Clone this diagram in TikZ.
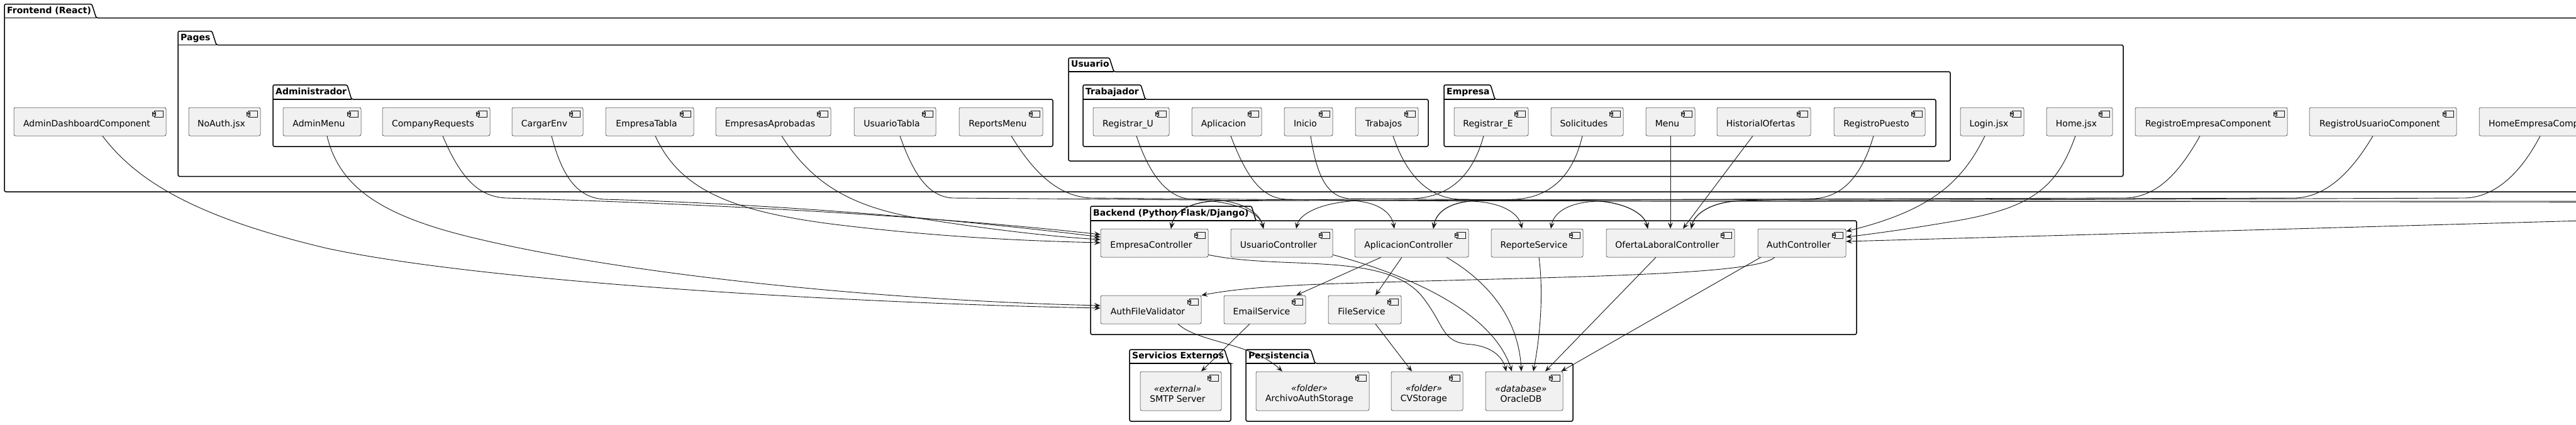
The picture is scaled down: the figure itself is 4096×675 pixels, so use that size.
\documentclass[tikz,border=0pt]{standalone}
\usepackage{fontspec}
\setmainfont{DejaVu Sans}
\usetikzlibrary{calc,arrows.meta}
\definecolor{cfill}{HTML}{F1F1F1}
\definecolor{cline}{HTML}{181818}
\tikzset{
  compbox/.style={draw=cline, line width=0.5pt, fill=cfill, rounded corners=2.5pt, inner sep=0pt},
  comptext/.style={inner sep=0pt, font=\fontsize{14}{16}\selectfont, text height=10.5pt, text depth=3pt, text=black},
  comptextb/.style={inner sep=0pt, font=\fontsize{14}{16}\selectfont, align=center, text=black},
  iconst/.style={draw=cline, line width=0.5pt, fill=cfill},
  pkgline/.style={draw=black, line width=1.5pt, rounded corners=2.5pt},
  pkgtitle/.style={inner sep=0pt, anchor=west, font=\fontsize{14}{16}\selectfont\bfseries, text height=10.5pt, text depth=3pt},
  conn/.style={draw=cline, line width=0.9pt, -{Stealth[length=10pt,width=8pt,inset=4pt]}},
  plain/.style={draw=cline, line width=0.9pt}
}
\newcommand\mkicon[1]{%
  \draw[iconst] ($(#1.north east)+(-19,5)$) rectangle ++(14,10);
  \draw[iconst] ($(#1.north east)+(-22,7)$) rectangle ++(5,2.5);
  \draw[iconst] ($(#1.north east)+(-22,10.5)$) rectangle ++(5,2.5);
}
\newcommand\mkcomp[6]{%
  \node[compbox, minimum width={#3-#2}, minimum height={#5-#4}] (#1) at ({(#2+#3)/2},{(#4+#5)/2}) {};
  \node[comptext] (#1-t) at ($(#1.center)+(-5,4.5)$) {#6};
  \mkicon{#1}
}
\newcommand\mkcompb[7]{%
  \node[compbox, minimum width={#3-#2}, minimum height={#5-#4}] (#1) at ({(#2+#3)/2},{(#4+#5)/2}) {};
  \node[comptextb] (#1-t) at ($(#1.center)+(-5,4.5)$) {\textit{#6}\\#7};
  \mkicon{#1}
}
\newcommand\mkpkg[8]{%
  \draw[pkgline] (#2,#5) -- (#2,#4) -- ({#7-7},#4) -- (#7,#5) -- (#3,#5) -- (#3,#6) -- (#2,#6) -- cycle;
  \draw[draw=black, line width=1.5pt] (#2,#5) -- (#7,#5);
  \node[pkgtitle] (#1) at ({#2+4},{(#4+#5)/2}) {#8};
}
\begin{document}
\begin{tikzpicture}[x=1pt, y=-1pt]
\useasboundingbox (0,0) rectangle (4096,675);
\clip (0,0) rectangle (4096,675);
\fill[white] (0,0) rectangle (4096,675);

% packages
\mkpkg{pFrontend}{7}{4250}{6.5}{28.5}{305}{153}{Frontend (React)}
\mkpkg{pPages}{283}{3376}{49.5}{71.5}{280.5}{344}{Pages}
\mkpkg{pAdmin}{434}{1674}{135}{158}{233}{559}{Administrador}
\mkpkg{pUsuario}{1699}{3101}{92}{114}{256}{1771}{Usuario}
\mkpkg{pTrab}{1722}{2271}{135}{158}{233}{1821}{Trabajador}
\mkpkg{pEmpresa}{2296}{3078}{135}{158}{233}{2377}{Empresa}
\mkpkg{pBackend}{1734}{2952}{328}{351}{532}{1997}{Backend (Python Flask/Django)}
\mkpkg{pServ}{1796}{1957}{556}{578}{670}{1954}{Servicios Externos}
\mkpkg{pPers}{1981}{2501}{556}{578}{670}{2091}{Persistencia}

% frontend components
\mkcomp{AdminDash}{22}{264}{171}{216}{AdminDashboardComponent}
\mkcomp{NoAuth}{300}{414}{171}{216}{NoAuth.jsx}
\mkcomp{AdminMenu}{450}{574}{171}{216}{AdminMenu}
\mkcomp{CompanyRequests}{608}{779}{171}{216}{CompanyRequests}
\mkcomp{CargarEnv}{814}{927}{171}{216}{CargarEnv}
\mkcomp{EmpresaTabla}{963}{1103}{171}{216}{EmpresaTabla}
\mkcomp{EmpresasAprobadas}{1138}{1321}{171}{216}{EmpresasAprobadas}
\mkcomp{UsuarioTabla}{1358}{1488}{171}{216}{UsuarioTabla}
\mkcomp{ReportsMenu}{1525}{1658}{171}{216}{ReportsMenu}
\mkcomp{RegistrarU}{1738}{1859}{171}{216}{Registrar\_U}
\mkcomp{Aplicacion}{1895}{2006}{171}{216}{Aplicacion}
\mkcomp{Inicio}{2042}{2119}{171}{216}{Inicio}
\mkcomp{Trabajos}{2155}{2255}{171}{216}{Trabajos}
\mkcomp{RegistrarE}{2312}{2430}{171}{216}{Registrar\_E}
\mkcomp{Solicitudes}{2466}{2581}{171}{216}{Solicitudes}
\mkcomp{Menu}{2617}{2695}{171}{216}{Menu}
\mkcomp{HistorialOfertas}{2730}{2879}{171}{216}{HistorialOfertas}
\mkcomp{RegistroPuesto}{2916}{3061}{171}{216}{RegistroPuesto}
\mkcomp{Login}{3117}{3218}{171}{216}{Login.jsx}
\mkcomp{Home}{3254}{3359}{171}{216}{Home.jsx}
\mkcomp{RegEmpComp}{3395}{3637}{171}{216}{RegistroEmpresaComponent}
\mkcomp{RegUsuComp}{3672}{3906}{171}{216}{RegistroUsuarioComponent}
\mkcomp{HomeEmpComp}{3942}{4166}{171}{216}{HomeEmpresaComponent}

% backend components
\mkcomp{EmpresaController}{1750}{1921}{364}{409}{EmpresaController}
\mkcomp{UsuarioController}{1957}{2119}{364}{409}{UsuarioController}
\mkcomp{AplicacionController}{2154}{2335}{364}{409}{AplicacionController}
\mkcomp{ReporteService}{2371}{2517}{364}{409}{ReporteService}
\mkcomp{OfertaLaboralController}{2554}{2758}{364}{409}{OfertaLaboralController}
\mkcomp{AuthController}{2795}{2935}{364}{409}{AuthController}
\mkcomp{AuthFileValidator}{1750}{1910}{470}{515}{AuthFileValidator}
\mkcomp{EmailService}{1946}{2076}{470}{515}{EmailService}
\mkcomp{FileService}{2112}{2228}{470}{515}{FileService}

% externals and persistence
\mkcompb{SMTP}{1813}{1942}{591}{653}{«external»}{SMTP Server}
\mkcompb{ArchivoAuth}{1997}{2177}{591}{653}{«folder»}{ArchivoAuthStorage}
\mkcompb{CVStorage}{2212}{2326}{591}{653}{«folder»}{CVStorage}
\mkcompb{OracleDB}{2362}{2485}{591}{653}{«database»}{OracleDB}

% off-picture sources (right of the visible part)
\coordinate (offA) at (4250,347);
\coordinate (offB) at (4250,320);
\coordinate (offC) at (4250,321.5);

% ---- frontend -> backend
\draw[conn] ($(AdminDash.south)+(20,0)$) .. controls +(60,80) and (330,350) .. (520,395)
  .. controls (800,455) and (1450,485) .. ($(AuthFileValidator.west)+(0,-2.5)$);
\draw[conn] ($(AdminMenu.south)+(8,0)$) .. controls (540,300) and (610,345) .. (760,380)
  .. controls (1000,437) and (1400,478) .. ($(AuthFileValidator.west)+(0,-6.5)$);
\draw[conn] ($(CompanyRequests.south)+(10.5,0)$) .. controls (735,290) and (765,313) .. (805,315)
  .. controls (1150,325) and (1500,345) .. ($(EmpresaController.west)+(0,-13.5)$);
\draw[conn] ($(CargarEnv.south)+(6.5,0)$) .. controls (895,285) and (920,314) .. (960,317)
  .. controls (1250,325) and (1550,352) .. ($(EmpresaController.west)+(0,-9.5)$);
\draw[conn] ($(EmpresaTabla.south)+(9,0)$) .. controls (1080,300) and (1160,335) .. (1320,356)
  .. controls (1480,376) and (1620,383) .. ($(EmpresaController.west)+(0,-0.5)$);
\draw[conn] ($(EmpresasAprobadas.south)+(13.5,0)$) .. controls (1290,290) and (1350,328) .. (1460,347)
  .. controls (1580,366) and (1680,377) .. ($(EmpresaController.west)+(0,-5.5)$);
\draw[conn] ($(UsuarioTabla.south)+(8,0)$) .. controls (1455,285) and (1480,313) .. (1515,315) -- (1900,318)
  .. controls (1965,320) and (2003,338) .. ($(UsuarioController.north)+(-29,0)$);
\draw[conn] ($(RegistrarU.south)+(8.5,0)$) .. controls (1830,285) and (1860,315) .. (1895,317) -- (1930,318)
  .. controls (1975,320) and (2003,338) .. ($(UsuarioController.north)+(-29,0)$);
\draw[conn] ($(ReportsMenu.south)+(16.5,0)$) .. controls (1650,285) and (1690,313) .. (1735,315) -- (2340,320)
  .. controls (2390,322) and (2415,340) .. ($(ReporteService.north)+(-24,0)$);
\draw[conn] ($(Aplicacion.south)+(6.5,0)$) .. controls (1985,290) and (2010,315) .. (2045,317) -- (2150,319)
  .. controls (2195,322) and (2213,340) .. ($(AplicacionController.north)+(-27.5,0)$);
\draw[conn] ($(Inicio.south)+(3.5,0)$) .. controls (2095,290) and (2115,313) .. (2145,316) -- (2535,319)
  .. controls (2585,322) and (2615,340) .. ($(OfertaLaboralController.north)+(-36,0)$);
\draw[conn] ($(Trabajos.south)+(10,0)$) .. controls (2240,290) and (2280,315) .. (2320,317) -- (2535,319.5)
  .. controls (2585,322) and (2615,340) .. ($(OfertaLaboralController.north)+(-36,0)$);
\draw[conn] ($(RegistrarE.south)+(-12,0)$) .. controls (2340,285) and (2300,314) .. (2245,316) -- (1935,319)
  .. controls (1885,322) and (1866,340) .. ($(EmpresaController.north)+(26.5,0)$);
\draw[conn] ($(RegEmpComp.south)+(-18,0)$) .. controls (3465,275) and (3430,313) .. (3380,315) -- (1935,319.5)
  .. controls (1885,322) and (1866,340) .. ($(EmpresaController.north)+(26.5,0)$);
\draw[conn] ($(Solicitudes.south)+(-7.5,0)$) .. controls (2500,285) and (2460,314) .. (2410,317) -- (2345,319)
  .. controls (2300,322) and (2283,340) .. ($(AplicacionController.north)+(34.5,0)$);
\draw[conn] (offC) -- (2345,319.5)
  .. controls (2300,322) and (2283,340) .. ($(AplicacionController.north)+(34.5,0)$);
\draw[conn] (Menu.south) -- (OfertaLaboralController.north);
\draw[conn] ($(HistorialOfertas.south)+(-17.5,0)$) -- ($(OfertaLaboralController.north)+(20,0)$);
\draw[conn] ($(RegistroPuesto.south)+(-9.5,0)$) .. controls (2960,280) and (2930,313) .. (2885,316) -- (2765,319)
  .. controls (2720,322) and (2694,340) .. ($(OfertaLaboralController.north)+(33,0)$);
\draw[conn] ($(HomeEmpComp.south)+(-15,0)$) .. controls (4010,272) and (3970,313) .. (3920,315) -- (2765,319.5)
  .. controls (2720,322) and (2694,340) .. ($(OfertaLaboralController.north)+(33,0)$);
\draw[conn] ($(RegUsuComp.south)+(-16,0)$) .. controls (3740,272) and (3700,313) .. (3650,315) -- (2160,319)
  .. controls (2100,322) and (2066,340) .. ($(UsuarioController.north)+(23,0)$);
\draw[conn] (offB) -- (2540,320)
  .. controls (2490,322) and (2470,340) .. ($(ReporteService.north)+(22,0)$);
\draw[conn] ($(Login.south)+(-11.5,0)$) .. controls (3120,290) and (3070,335) .. ($(AuthController.east)+(0,-18.5)$);
\draw[conn] ($(Home.south)+(-6.5,0)$) .. controls (3270,300) and (3230,332) .. (3100,353)
  .. controls (3030,365) and (2970,373) .. ($(AuthController.east)+(0,-9.5)$);
\draw[conn] (offA) -- ($(AuthController.east)+(0,-2.5)$);

% ---- backend internal
\draw[conn] ($(EmpresaController.south east)+(0,-4)$) .. controls (2040,430) and (2200,400) .. (2260,470)
  .. controls (2300,520) and (2290,545) .. (2340,548)
  .. controls (2375,552) and (2390,570) .. ($(OracleDB.north)+(-28.5,0)$);
\draw[conn] ($(UsuarioController.south east)+(0,-4)$) .. controls (2250,440) and (2375,500) .. ($(OracleDB.north)+(-19.5,0)$);
\draw[conn] ($(AplicacionController.south)+(55.5,0)$) .. controls (2370,450) and (2415,510) .. ($(OracleDB.north)+(-4.5,0)$);
\draw[conn] ($(ReporteService.south)+(3,0)$) .. controls (2455,470) and (2448,540) .. ($(OracleDB.north)+(14.5,0)$);
\draw[conn] ($(OfertaLaboralController.south)+(-23,0)$) -- ($(OracleDB.north)+(33.5,0)$);
\draw[conn] ($(AuthController.south west)+(5,0)$) -- ($(OracleDB.north east)+(-3,0)$);
\draw[conn] ($(AuthController.south west)+(27,0)$) .. controls (2790,440) and (2450,440) .. (2100,452)
  .. controls (2000,456) and (1950,462) .. (AuthFileValidator.north east);
\draw[conn] ($(AplicacionController.south)+(-48.5,0)$) -- ($(EmailService.north)+(50,0)$);
\draw[conn] ($(AplicacionController.south)+(-15.5,0)$) -- ($(FileService.north)+(17,0)$);
\draw[conn] ($(AuthFileValidator.south)+(43,0)$) .. controls (1905,545) and (1990,545) .. ($(ArchivoAuth.north)+(-48,0)$);
\draw[conn] ($(EmailService.south)+(-24,0)$) -- ($(SMTP.north)+(32.5,0)$);
\draw[conn] ($(FileService.south)+(17,0)$) -- ($(CVStorage.north)+(-24,0)$);
\end{tikzpicture}
\end{document}
